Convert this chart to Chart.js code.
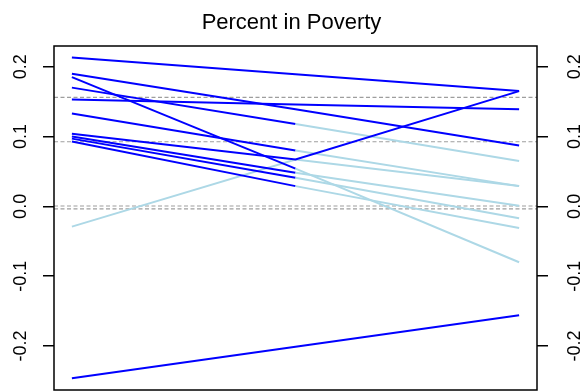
<!DOCTYPE html>
<html>
<head>
<meta charset="utf-8">
<script src="https://cdn.jsdelivr.net/npm/chart.js@4.4.1/dist/chart.umd.min.js"></script>
<style>
  html, body { margin: 0; padding: 0; background: #fff; }
  #wrap { width: 583px; height: 391px; }
</style>
</head>
<body>
<div id="wrap"><canvas id="povertyChart" width="583" height="391"></canvas></div>
<script>
// three time points, one line per group
const periods = [1, 2, 3];
const povStart = [0.213, 0.190, 0.185, 0.170, 0.153, 0.133, 0.104, 0.100, 0.097, 0.093, -0.029, -0.246];
const povMid   = [0.189, 0.139, 0.054, 0.118, 0.146, 0.080, 0.067, 0.048, 0.041, 0.029, 0.067, -0.201];
const povEnd   = [0.165, 0.087, -0.080, 0.065, 0.139, 0.029, 0.165, 0.001, -0.017, -0.031, 0.029, -0.156];
// 1 = dark (blue) segment, 0 = light (lightblue) segment
const firstSegDark  = [1, 1, 1, 1, 1, 1, 1, 1, 1, 1, 0, 1];
const secondSegDark = [1, 1, 0, 0, 1, 0, 1, 0, 0, 0, 0, 1];
// dashed reference levels
const refLines = [0.156, 0.0925, 0.0005, -0.0035];
const yTicks = [-0.2, -0.1, 0.0, 0.1, 0.2];
const tickLabels = ['-0.2', '-0.1', '0.0', '0.1', '0.2'];

const DARK = '#0000ff';
const LIGHT = '#add8e6';
const xMin = 0.92, xMax = 3.08;
const yMin = -0.2629, yMax = 0.2296;

const datasets = [];

refLines.forEach(v => {
  datasets.push({
    data: [{ x: xMin, y: v }, { x: xMax, y: v }],
    borderColor: '#9e9e9e',
    borderWidth: 1.2,
    borderDash: [4, 2.5],
    pointRadius: 0,
    order: 2
  });
});

povStart.forEach((s, i) => {
  const vals = [s, povMid[i], povEnd[i]];
  const segs = [firstSegDark[i], secondSegDark[i]];
  datasets.push({
    data: periods.map((p, j) => ({ x: p, y: vals[j] })),
    borderColor: segs[0] ? DARK : LIGHT,
    segment: {
      borderColor: ctx => (segs[ctx.p0DataIndex] ? DARK : LIGHT)
    },
    borderWidth: 2,
    pointRadius: 0,
    tension: 0,
    order: segs[0] && segs[1] ? 0 : 1
  });
});

// box around the plot and the rotated tick labels on both sides
const framePlugin = {
  id: 'frame',
  afterDraw(chart) {
    const { ctx, chartArea: a } = chart;
    ctx.save();
    ctx.strokeStyle = '#000';
    ctx.lineWidth = 1.5;
    ctx.strokeRect(a.left, a.top, a.right - a.left, a.bottom - a.top);

    ctx.fillStyle = '#000';
    ctx.font = '18px "Liberation Sans", Arial, sans-serif';
    ctx.textAlign = 'center';
    ctx.textBaseline = 'alphabetic';
    const yScale = chart.scales.y;
    yTicks.forEach((v, k) => {
      const py = yScale.getPixelForValue(v);
      [25.5, 579.5].forEach(bx => {
        ctx.save();
        ctx.translate(bx, py);
        ctx.rotate(-Math.PI / 2);
        ctx.fillText(tickLabels[k], 0, 0);
        ctx.restore();
      });
    });
    ctx.restore();
  }
};

const axisCommon = {
  type: 'linear',
  min: yMin,
  max: yMax,
  afterBuildTicks: s => { s.ticks = yTicks.map(v => ({ value: v })); },
  ticks: { display: false },
  grid: { drawOnChartArea: false, drawTicks: true, tickLength: 11, color: '#000', lineWidth: 1.5 },
  border: { display: false }
};

new Chart(document.getElementById('povertyChart'), {
  type: 'line',
  data: { datasets },
  options: {
    responsive: false,
    animation: false,
    layout: { padding: { left: 0, right: 0, top: 0, bottom: 1 } },
    plugins: {
      legend: { display: false },
      tooltip: { enabled: false },
      title: {
        display: true,
        text: 'Percent in Poverty',
        color: '#000',
        font: { family: '"Liberation Sans", Arial, sans-serif', size: 22, weight: 'normal' },
        padding: { top: 10, bottom: 9.6 }
      }
    },
    scales: {
      x: { type: 'linear', min: xMin, max: xMax, display: false },
      y: { ...axisCommon, position: 'left', afterFit: s => { s.width = 54; } },
      y2: { ...axisCommon, position: 'right', afterFit: s => { s.width = 46; } }
    }
  },
  plugins: [framePlugin]
});
</script>
</body>
</html>
